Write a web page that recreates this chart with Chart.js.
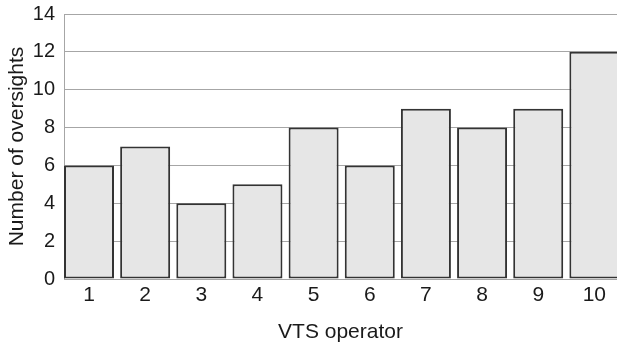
<!DOCTYPE html>
<html>
<head>
<meta charset="utf-8">
<script src="https://cdn.jsdelivr.net/npm/chart.js@4/dist/chart.umd.min.js"></script>
<style>
  html, body { margin: 0; padding: 0; background: #fff; overflow: hidden; }
  #wrap { width: 617px; height: 346px; }
</style>
</head>
<body>
<div id="wrap"><canvas id="c" width="617" height="346"></canvas></div>
<script>
const categories = ['1', '2', '3', '4', '5', '6', '7', '8', '9', '10'];
const oversights = [6, 7, 4, 5, 8, 6, 9, 8, 9, 12];
const yTicks = [0, 2, 4, 6, 8, 10, 12, 14];

const points = categories.map((c, i) => ({ x: i + 1, y: oversights[i] }));
const FONT = "'Liberation Sans', Arial, Helvetica, sans-serif";
const GRID = '#a6a6a6';

new Chart(document.getElementById('c'), {
  type: 'bar',
  data: {
    datasets: [{
      data: points,
      backgroundColor: '#e6e6e6',
      borderColor: '#333333',
      borderWidth: 2,
      borderSkipped: false,
      barPercentage: 0.8905,
      categoryPercentage: 1.0
    }]
  },
  options: {
    responsive: false,
    animation: false,
    events: [],
    layout: { padding: { left: 0, right: 0, top: 14, bottom: 0 } },
    plugins: { legend: { display: false }, tooltip: { enabled: false } },
    scales: {
      x: {
        type: 'linear',
        offset: false,
        min: 0.5548,
        max: 10.403,
        afterBuildTicks: (scale) => { scale.ticks = categories.map((c, i) => ({ value: i + 1 })); },
        afterFit: (scale) => { scale.height = 67; scale.paddingLeft = 0; scale.paddingRight = 0; },
        grid: { display: false, drawTicks: false, offset: false },
        border: { display: true, color: GRID, width: 1 },
        ticks: {
          autoSkip: false,
          maxRotation: 0,
          padding: 4,
          color: '#1a1a1a',
          font: { family: FONT, size: 21 },
          callback: (v) => categories[Math.round(v) - 1]
        },
        title: {
          display: true,
          text: 'VTS operator',
          color: '#1a1a1a',
          font: { family: FONT, size: 21 },
          padding: { top: 2, bottom: 1 }
        }
      },
      y: {
        min: 0,
        max: 14,
        afterBuildTicks: (scale) => { scale.ticks = yTicks.map(v => ({ value: v })); },
        afterFit: (scale) => { scale.width = 64; scale.paddingTop = 0; scale.paddingBottom = 0; },
        grid: { color: GRID, lineWidth: 1, drawTicks: false },
        border: { display: true, color: GRID, width: 1 },
        ticks: {
          padding: 9,
          color: '#1a1a1a',
          font: { family: FONT, size: 20 },
          callback: (v) => String(v)
        },
        title: {
          display: true,
          text: 'Number of oversights',
          color: '#1a1a1a',
          font: { family: FONT, size: 21 },
          padding: { top: 5, bottom: 1 }
        }
      }
    }
  }
});
</script>
</body>
</html>
